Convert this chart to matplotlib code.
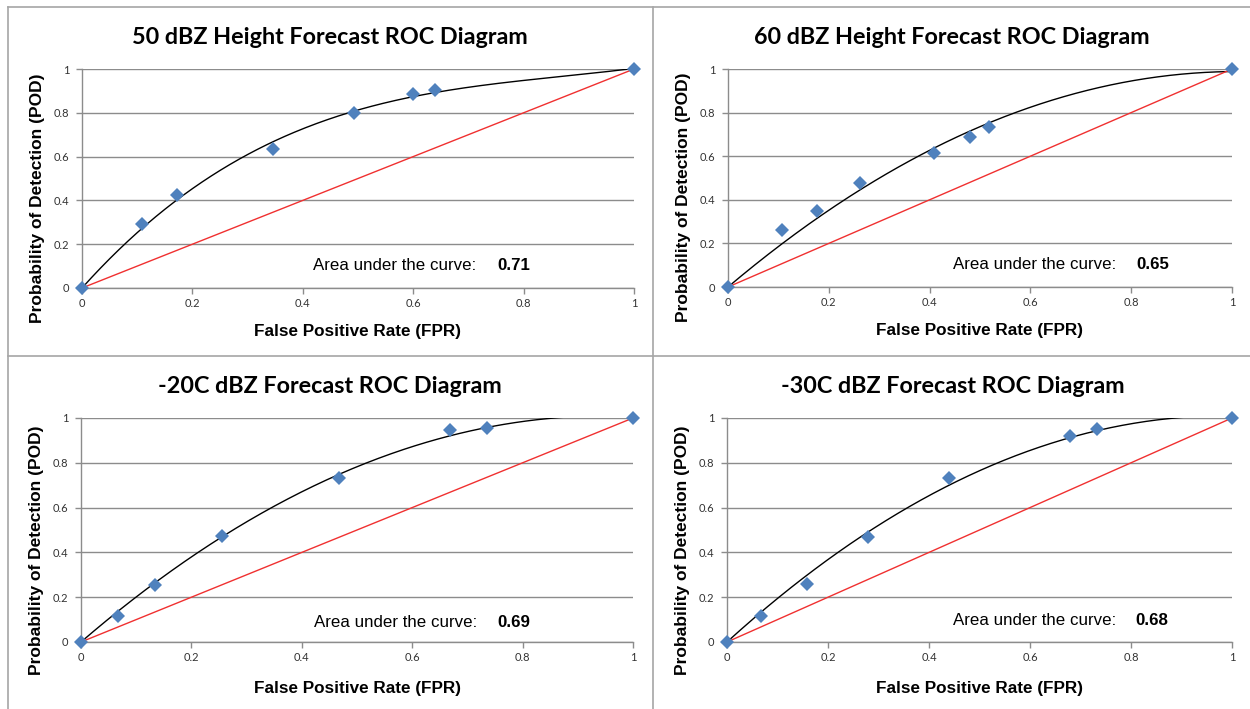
import numpy as np
import matplotlib.pyplot as plt
from matplotlib.lines import Line2D

# ROC points (FPR, POD)
titles = ["50 dBZ Height Forecast ROC Diagram", "60 dBZ Height Forecast ROC Diagram",
          "-20C dBZ Forecast ROC Diagram", "-30C dBZ Forecast ROC Diagram"]
fpr_50 = [0.0, 0.108, 0.172, 0.346, 0.493, 0.599, 0.640, 1.0]
pod_50 = [0.0, 0.293, 0.423, 0.634, 0.797, 0.884, 0.904, 1.0]
fpr_60 = [0.0, 0.108, 0.177, 0.261, 0.409, 0.480, 0.518, 1.0]
pod_60 = [0.0, 0.263, 0.349, 0.479, 0.614, 0.688, 0.732, 1.0]
fpr_m20 = [0.0, 0.067, 0.134, 0.255, 0.468, 0.669, 0.735, 1.0]
pod_m20 = [0.0, 0.114, 0.253, 0.474, 0.734, 0.948, 0.955, 1.0]
fpr_m30 = [0.0, 0.067, 0.158, 0.279, 0.440, 0.680, 0.733, 1.0]
pod_m30 = [0.0, 0.114, 0.259, 0.468, 0.734, 0.918, 0.951, 1.0]
auc_values = ["0.71", "0.65", "0.69", "0.68"]
fit_order = [3, 2, 2, 2]   # polynomial trendline order per panel
no_skill = [0.0, 1.0]
ticks = [0, 0.2, 0.4, 0.6, 0.8, 1]
tick_labels = ["0", "0.2", "0.4", "0.6", "0.8", "1"]

fprs = [fpr_50, fpr_60, fpr_m20, fpr_m30]
pods = [pod_50, pod_60, pod_m20, pod_m30]


def trend_zero(x, y, order):
    # least squares polynomial with intercept fixed at 0
    A = np.column_stack([x ** k for k in range(1, order + 1)])
    c, *_ = np.linalg.lstsq(A, y, rcond=None)
    return lambda t: sum(c[k - 1] * t ** k for k in range(1, order + 1))


W, H = 1250, 709
fig = plt.figure(figsize=(W / 100, H / 100), dpi=100)

# axes boxes in pixels: left, right, top, bottom
boxes = [(82, 634, 69, 288), (728, 1232, 69, 287),
         (81, 633, 418, 642), (727, 1232, 418, 642)]
# panel centre x and title y (pixels)
title_pos = [(330, 37), (952, 37), (330, 386), (953, 386)]
# where the "Area under the curve" text sits (data coords)
auc_pos = [(0.418, 0.752, 0.105), (0.446, 0.81, 0.105),
           (0.422, 0.754, 0.089), (0.4475, 0.808, 0.098)]
xlabel_pad = [11, 11, 13, 13]

grey = "#8c8c8c"
blue = "#4f81bd"
narrow = "Liberation Sans"

for i in range(4):
    l, r, t, b = boxes[i]
    ax = fig.add_axes([l / W, 1 - b / H, (r - l) / W, (b - t) / H])
    x = np.array(fprs[i])
    y = np.array(pods[i])

    # polynomial trendline like the spreadsheet one
    f = trend_zero(x, y, fit_order[i])
    xs = np.linspace(0, 1, 300)
    ax.plot(xs, f(xs), color="black", lw=1.0, zorder=3)
    ax.plot(no_skill, no_skill, color="#f03030", lw=1.0, zorder=3)
    ax.plot(x, y, linestyle="none", marker="D", ms=7, color=blue,
            markeredgewidth=0, zorder=4, clip_on=False)

    ax.set_xlim(0, 1)
    ax.set_ylim(0, 1)
    ax.set_xticks(ticks)
    ax.set_xticklabels(tick_labels)
    ax.set_yticks(ticks)
    ax.set_yticklabels(tick_labels)
    ax.grid(axis="y", color=grey, lw=1.0)
    ax.set_axisbelow(True)
    for s in ["top", "right"]:
        ax.spines[s].set_visible(False)
    for s in ["left", "bottom"]:
        ax.spines[s].set_color(grey)
        ax.spines[s].set_linewidth(1.0)
    ax.tick_params(axis="both", colors=grey, length=4, width=1.0,
                   labelsize=8, labelcolor="#333333", pad=5)
    ax.tick_params(axis="x", pad=3)
    for lab in ax.get_xticklabels() + ax.get_yticklabels():
        lab.set_family("Lato")

    tx, ty = title_pos[i]
    fig.text(tx / W, 1 - ty / H, titles[i], fontsize=16.8, fontweight="bold",
             family="Lato", ha="center", va="center")
    ax.set_xlabel("False Positive Rate (FPR)", fontsize=12.3, fontweight="bold",
                  family=narrow, labelpad=xlabel_pad[i])
    ax.set_ylabel("Probability of Detection (POD)", fontsize=12.5,
                  fontweight="bold", family=narrow)
    ax.yaxis.set_label_coords(-37 / (r - l), 0.41)

    xa, xv, ya = auc_pos[i]
    ax.text(xa, ya, "Area under the curve:", fontsize=12.2,
            family=narrow, va="center", ha="left")
    ax.text(xv, ya, auc_values[i], fontsize=12.2, fontweight="bold",
            family=narrow, va="center", ha="left")

# panel frames
frame = "#a6a6a6"
for xx in [8, 653]:
    fig.add_artist(Line2D([xx / W, xx / W], [0, 1 - 7 / H], color=frame, lw=1.2))
for yy in [7, 356]:
    fig.add_artist(Line2D([8 / W, 1], [1 - yy / H, 1 - yy / H], color=frame, lw=1.2))

fig.savefig("out.png", dpi=100)
